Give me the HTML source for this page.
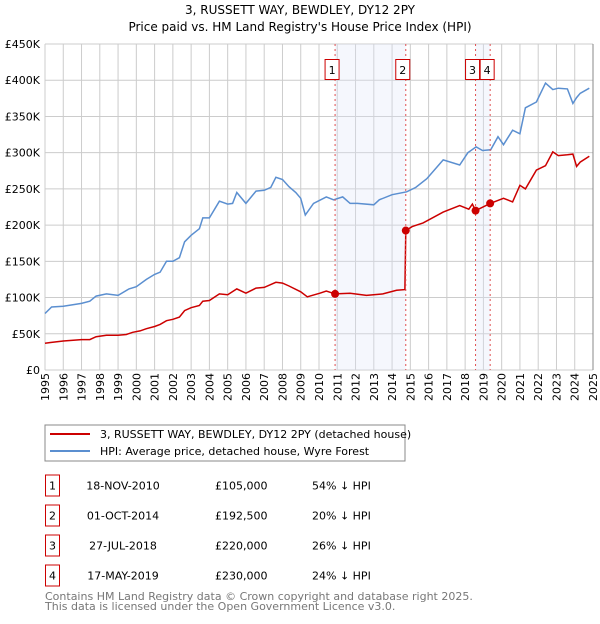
<!DOCTYPE html>
<html><head><meta charset="utf-8"><style>
body{margin:0;background:#fff;font-family:"DejaVu Sans","Liberation Sans",sans-serif;}
svg text{font-family:"DejaVu Sans","Liberation Sans",sans-serif;}
</style></head><body>
<svg id="c" width="600" height="620" xmlns="http://www.w3.org/2000/svg">
<text x="300" y="14" text-anchor="middle" font-size="12">3, RUSSETT WAY, BEWDLEY, DY12 2PY</text>
<text x="300" y="31" text-anchor="middle" font-size="12">Price paid vs. HM Land Registry's House Price Index (HPI)</text>
<g id="grid"></g><g id="shade"></g><g id="lines"></g><g id="marks"></g><g id="axes"></g>
<line x1="593" y1="44" x2="593" y2="370" stroke="#888"/>
<rect x="45" y="425" width="360" height="36" fill="#fff" stroke="#888"/>
<line x1="50" y1="434" x2="90" y2="434" stroke="#cc0000" stroke-width="2"/>
<text x="100" y="438" font-size="11">3, RUSSETT WAY, BEWDLEY, DY12 2PY (detached house)</text>
<line x1="50" y1="451" x2="90" y2="451" stroke="#5b8fd0" stroke-width="2"/>
<text x="100" y="455" font-size="11">HPI: Average price, detached house, Wyre Forest</text>
<g id="table" font-size="11"></g>
<text x="45" y="600" font-size="11" fill="#777">Contains HM Land Registry data © Crown copyright and database right 2025.</text>
<text x="45" y="610" font-size="11" fill="#777">This data is licensed under the Open Government Licence v3.0.</text>
</svg>
<script>
const yTicks=[0,50,100,150,200,250,300,350,400,450];
const yTickLabels=["£0","£50K","£100K","£150K","£200K","£250K","£300K","£350K","£400K","£450K"];
const xYears=[1995,1996,1997,1998,1999,2000,2001,2002,2003,2004,2005,2006,2007,2008,2009,2010,2011,2012,2013,2014,2015,2016,2017,2018,2019,2020,2021,2022,2023,2024,2025];
const hpiYears=[1995,1995.36,1996,1997,1997.45,1997.8,1998.36,1999,1999.6,2000,2000.55,2001,2001.3,2001.65,2002,2002.36,2002.64,2003,2003.45,2003.64,2004,2004.55,2005,2005.27,2005.5,2006,2006.55,2007,2007.36,2007.64,2008,2008.36,2008.73,2009,2009.25,2009.7,2010.4,2010.8,2011.3,2011.7,2012.1,2013,2013.3,2014,2014.8,2015.3,2015.9,2016.8,2017.7,2018.15,2018.6,2018.95,2019.4,2019.8,2020.1,2020.6,2021,2021.3,2021.9,2022.4,2022.8,2023.1,2023.6,2023.9,2024.1,2024.3,2024.8];
const hpiValues=[78,87,88,92,95,102,105,103,112,115,125,132,135,150,150,155,177,186,195,210,210,233,229,230,245,230,247,248,252,266,263,253,245,237,214,230,239,235,239,230,230,228,235,242,246,252,264,290,283,300,308,303,304,322,311,331,326,362,370,396,387,389,388,368,376,382,389];
const propYears=[1995,1995.3,1996,1997,1997.45,1997.8,1998.36,1999,1999.45,1999.8,2000.2,2000.55,2001,2001.3,2001.65,2002,2002.36,2002.64,2003,2003.45,2003.64,2004,2004.55,2005,2005.5,2006,2006.55,2007,2007.64,2008,2008.36,2009,2009.36,2010.05,2010.4,2010.88,2011.7,2012.6,2013.5,2014.25,2014.7,2014.75,2015.1,2015.7,2016.8,2017.7,2018.2,2018.4,2018.57,2018.9,2019.37,2020.1,2020.6,2021,2021.3,2021.9,2022.4,2022.8,2023.1,2023.6,2023.9,2024.1,2024.3,2024.8];
const propValues=[37,38,40,42,42,46,48,48,49,52,54,57,60,63,68,70,73,82,86,89,95,96,105,104,112,106,113,114,121,120,116,108,101,106,109,105,106,103,105,110,111,192.5,198,203,218,227,222,229,220,224,230,237,232,255,250,276,282,301,296,297,298,281,287,295];
const saleYears=[2010.88,2014.75,2018.57,2019.37];
const salePrices=[105,192.5,220,230];
const saleDates=["18-NOV-2010","01-OCT-2014","27-JUL-2018","17-MAY-2019"];
const salePriceLabels=["£105,000","£192,500","£220,000","£230,000"];
const saleDiffs=["54% ↓ HPI","20% ↓ HPI","26% ↓ HPI","24% ↓ HPI"];

const NS="http://www.w3.org/2000/svg";
const X0=45,X1=593,Y0=370,Y1=44;
const xs=y=>X0+(y-1995)/30*(X1-X0);
const ys=v=>Y0-v/450*(Y0-Y1);
function mk(parent,tag,attrs){const e=document.createElementNS(NS,tag);for(const k in attrs)e.setAttribute(k,attrs[k]);document.getElementById(parent).appendChild(e);return e;}

yTicks.forEach((t,i)=>{
  const l=mk('grid','line',{x1:X0,x2:X1,y1:ys(t),y2:ys(t),stroke:'#ccc'});
  
  
  const tx=mk('axes','text',{x:40,y:ys(t)+4,'text-anchor':'end','font-size':11});
  tx.textContent=yTickLabels[i];
  
  
});
xYears.forEach(yr=>{
  const l=mk('grid','line',{x1:xs(yr),x2:xs(yr),y1:Y1,y2:Y0,stroke:'#ccc'});
  
  
  const tx=mk('axes','text',{transform:`translate(${xs(yr)+4},${Y0+3}) rotate(-90)`,'text-anchor':'end','font-size':11});
  tx.textContent=yr;
  
  
});
[[0,1],[2,3]].forEach(([a,b])=>{
  const r=mk('shade','rect',{x:xs(saleYears[a]),y:Y1,width:xs(saleYears[b])-xs(saleYears[a]),height:Y0-Y1,fill:'#dde6f8','fill-opacity':0.3});
  
  
});
function path(xa,va){return xa.map((x,i)=>(i?'L':'M')+xs(x).toFixed(1)+','+ys(va[i]).toFixed(1)).join('');}
const hp=mk('lines','path',{d:path(hpiYears,hpiValues),fill:'none',stroke:'#5b8fd0','stroke-width':1.5});


const pp=mk('lines','path',{d:path(propYears,propValues),fill:'none',stroke:'#cc0000','stroke-width':1.5});


saleYears.forEach((yr,i)=>{
  const l=mk('marks','line',{x1:xs(yr),x2:xs(yr),y1:Y1,y2:Y0,stroke:'#e05050','stroke-dasharray':'2,3'});
  
  
  const c=mk('marks','circle',{cx:xs(yr),cy:ys(salePrices[i]),r:4,fill:'#cc0000'});
  
  
  const r=mk('marks','rect',{x:xs(yr)-10,y:59.5,width:14,height:20,fill:'#fff',stroke:'#cc0000'});
  
  
  const t=mk('marks','text',{x:xs(yr)-3,y:74,'text-anchor':'middle','font-size':11});
  t.textContent=i+1;
  
  
});
const rowY=[485.5,515.5,545.5,575.5];
saleDates.forEach((d,i)=>{
  const r=mk('table','rect',{x:45.5,y:rowY[i]-10.5,width:14,height:21,fill:'#fff',stroke:'#cc0000'});
  
  
  const cells=[[52.5,String(i+1),'middle'],[123,d,'middle'],[215,salePriceLabels[i],'start'],[312,saleDiffs[i],'start']];
  cells.forEach(([x,s,a])=>{
    const t=mk('table','text',{x:x,y:rowY[i]+4,'text-anchor':a});
    t.textContent=s;
    
    
  });
});
</script>
</body></html>
